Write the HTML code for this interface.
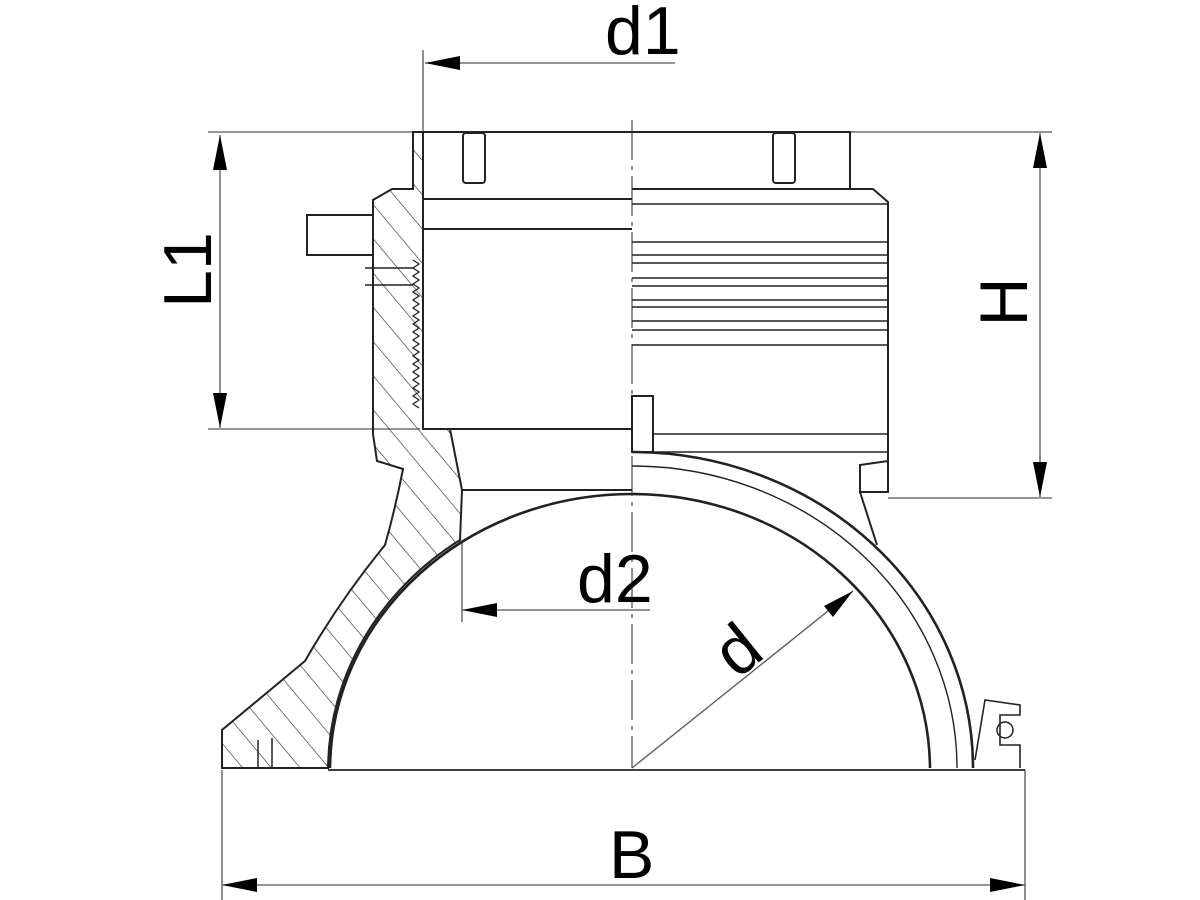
<!DOCTYPE html>
<html><head><meta charset="utf-8"><style>
html,body{margin:0;padding:0;background:#fff;}
svg{display:block;}
text{font-family:"Liberation Sans",sans-serif;fill:#000;}
</style></head><body>
<svg width="1200" height="900" viewBox="0 0 1200 900" xmlns="http://www.w3.org/2000/svg">
<defs>
<pattern id="h" patternUnits="userSpaceOnUse" width="22" height="22" patternTransform="rotate(-40)">
<line x1="0" y1="0" x2="0" y2="22" stroke="#333" stroke-width="1.3"/>
</pattern>
</defs>
<g stroke="#555" stroke-width="1.3" fill="none">
<line x1="208" y1="132" x2="1052" y2="132"/>
<line x1="208" y1="429" x2="420" y2="429"/>
<line x1="888" y1="498" x2="1052" y2="498"/>
<line x1="423" y1="50" x2="423" y2="132"/>
<line x1="425" y1="63" x2="675" y2="63"/>
<line x1="222" y1="770" x2="222" y2="900"/>
<line x1="1025" y1="770" x2="1025" y2="900"/>
<line x1="222" y1="885" x2="1025" y2="885"/>
<line x1="220" y1="135" x2="220" y2="428"/>
<line x1="1040" y1="133" x2="1040" y2="497"/>
<line x1="462" y1="540" x2="462" y2="622"/>
<line x1="462" y1="610" x2="650" y2="610"/>
<line x1="632" y1="768" x2="853" y2="591"/>
<line x1="632" y1="120" x2="632" y2="768" stroke-dasharray="40,6,4,6"/>
</g>
<g fill="#000">
<polygon points="425,63 460,56 460,70"/>
<polygon points="220,135 213,170 227,170"/>
<polygon points="220,428 213,393 227,393"/>
<polygon points="1040,133 1033,168 1047,168"/>
<polygon points="1040,497 1033,462 1047,462"/>
<polygon points="222,885 257,878 257,892"/>
<polygon points="1025,885 990,878 990,892"/>
<polygon points="462,610 497,603 497,617"/>
<polygon points="853,591 833,617 824,606"/>
</g>
<path d="M413,132 L413,189 L392,189 L373,200 L373,434 L377,461 L403,469 Q395,510 385,545 Q340,600 305,661 L222,730 L222,768 L328,768 A300,278 0 0 1 460,540 L462,490 L450,429 L423,429 L423,132 Z" fill="url(#h)" stroke="#222" stroke-width="2"/>
<g stroke="#222" stroke-width="2" fill="none">
<rect x="307" y="215" width="66" height="40" fill="#fff"/>
<path d="M365,268 L413,268 M365,285 L413,285" stroke-width="1.5"/>
<path d="M413,260 L419,264 L413,268 L419,272 L413,276 L419,280 L413,284 L419,288 L413,292 L419,296 L413,300 L419,304 L413,308 L419,312 L413,316 L419,320 L413,324 L419,328 L413,332 L419,336 L413,340 L419,344 L413,348 L419,352 L413,356 L419,360 L413,364 L419,368 L413,372 L419,376 L413,380 L419,384 L413,388 L419,392 L413,396 L419,400 L413,404 L419,408" stroke-width="1.3"/>
<line x1="423" y1="199" x2="632" y2="199"/>
<line x1="423" y1="229" x2="632" y2="229"/>
<line x1="423" y1="429" x2="632" y2="429"/>
<line x1="462" y1="490" x2="632" y2="490"/>
<path d="M423,132 L632,132"/>
<rect x="463" y="133" width="22" height="50" rx="3"/>
<path d="M330,768 A302,276 0 0 1 632,494 A298,276 0 0 1 930,768" stroke-width="2.6"/>
<path d="M632,452 A341,316 0 0 1 973,768" stroke-width="2.6"/>
<path d="M632,466 A325,302 0 0 1 957,768" stroke-width="1.4"/>
<line x1="328" y1="770" x2="1025" y2="770" stroke-width="1.8"/>
<path d="M632,132 L850,132 L850,189 L873,189 L888,202 L888,492 L860,492 L860,465 L888,461"/>
<line x1="632" y1="189" x2="873" y2="189"/>
<rect x="773" y="133" width="22" height="50" rx="3"/>
<g stroke-width="1.6">
<line x1="632" y1="204" x2="888" y2="204"/>
<line x1="632" y1="242" x2="888" y2="242"/>
<line x1="632" y1="255" x2="888" y2="255"/>
<line x1="632" y1="263" x2="888" y2="263"/>
<line x1="632" y1="278" x2="888" y2="278"/>
<line x1="632" y1="286" x2="888" y2="286"/>
<line x1="632" y1="300" x2="888" y2="300"/>
<line x1="632" y1="307" x2="888" y2="307"/>
<line x1="632" y1="321" x2="888" y2="321"/>
<line x1="632" y1="330" x2="888" y2="330"/>
<line x1="632" y1="345" x2="888" y2="345"/>
<line x1="653" y1="434" x2="888" y2="434"/>
<line x1="653" y1="452" x2="888" y2="452"/>
</g>
<rect x="632" y="396" width="21" height="56"/>
<path d="M860,492 L877,545"/>
<path d="M975,760 L985,700 L1020,705 L1020,715 L1000,715 L1000,745 L1020,745 L1020,768" stroke-width="1.6"/>
<circle cx="1005" cy="730" r="8" stroke-width="1.5"/>
<line x1="258" y1="740" x2="258" y2="768" stroke-width="1.5"/>
<line x1="272" y1="738" x2="272" y2="768" stroke-width="1.5"/>
</g>
<text x="605" y="54" font-size="68">d1</text>
<text x="577" y="602" font-size="68">d2</text>
<text x="609" y="878" font-size="68">B</text>
<text transform="translate(211,270) rotate(-90)" text-anchor="middle" font-size="68">L1</text>
<text transform="translate(1027,302) rotate(-90)" text-anchor="middle" font-size="68">H</text>
<text transform="translate(752,668) rotate(-39)" text-anchor="middle" font-size="68">d</text>
</svg>
</body></html>
